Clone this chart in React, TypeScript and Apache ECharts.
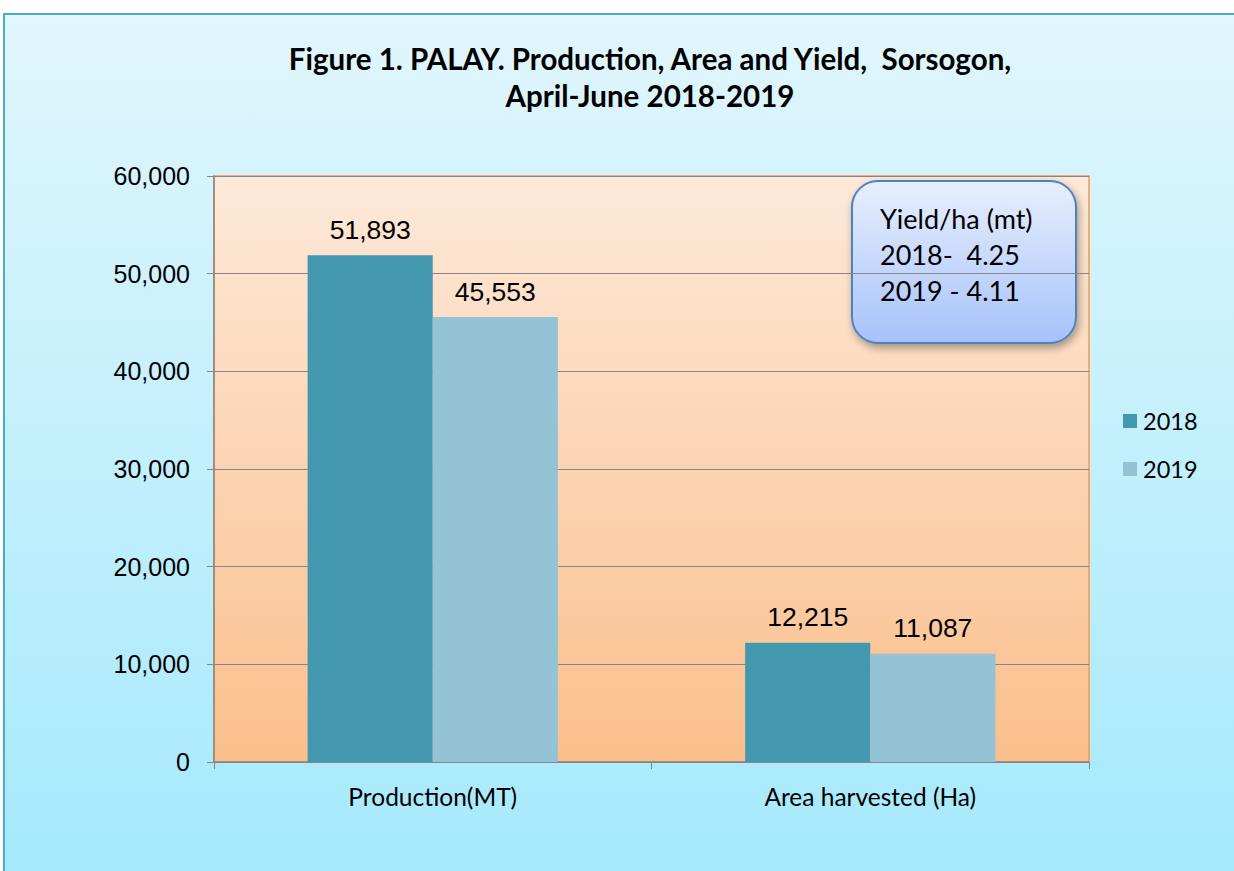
import React, { useEffect, useRef } from "react";
import * as echarts from "echarts";

const categories = ["Production(MT)", "Area harvested (Ha)"];
const seriesNames = ["2018", "2019"];
const values2018 = [51893, 12215];
const values2019 = [45553, 11087];
const yieldLines = ["Yield/ha (mt)", "2018-  4.25", "2019 - 4.11"];
const titleLines = ["Figure 1. PALAY. Production, Area and Yield,  Sorsogon,", "April-June 2018-2019"];

const CAL = "Lato, 'Open Sans', sans-serif";
const ARIAL = "'Liberation Sans', Arial, sans-serif";

export default function App() {
  const ref = useRef<HTMLDivElement>(null);
  useEffect(() => {
    const chart = echarts.init(ref.current!, null, { renderer: "svg" });
    const lg = (a: string, b: string) =>
      new echarts.graphic.LinearGradient(0, 0, 0, 1, [
        { offset: 0, color: a },
        { offset: 1, color: b },
      ]);
    const labelOpt = {
      show: true,
      position: "top",
      distance: 12,
      fontFamily: ARIAL,
      fontSize: 26.5,
      color: "#000",
      formatter: (p: any) => p.value.toLocaleString("en-US"),
    };
    chart.setOption({
      animation: false,
      title: {
        text: titleLines.join("\n"),
        left: 645,
        textAlign: "center",
        top: 35,
        textStyle: { fontFamily: CAL, fontWeight: "bold", fontSize: 29.5, lineHeight: 37, color: "#000" },
      },
      legend: {
        orient: "vertical",
        left: 1118,
        top: 404,
        itemWidth: 14,
        itemHeight: 14,
        itemGap: 24,
        icon: "rect",
        data: seriesNames,
        textStyle: { fontFamily: CAL, fontSize: 23.5, color: "#000", padding: [0, 0, 0, 1] },
      },
      grid: {
        left: 214,
        top: 176,
        width: 875,
        height: 586,
        show: true,
        backgroundColor: lg("#fde9d9", "#fbbf8c"),
        borderColor: "#f79646",
        borderWidth: 1.5,
      },
      xAxis: {
        type: "category",
        data: categories,
        axisLine: { lineStyle: { color: "#868686", width: 1.5 } },
        axisTick: { show: true, length: 7, lineStyle: { color: "#868686" } },
        axisLabel: { fontFamily: CAL, fontSize: 24.5, color: "#000", margin: 22 },
      },
      yAxis: {
        type: "value",
        min: 0,
        max: 60000,
        interval: 10000,
        axisLine: { show: true, lineStyle: { color: "#868686", width: 1.5 } },
        axisTick: { show: true, length: 7, lineStyle: { color: "#868686" } },
        splitLine: { lineStyle: { color: "#868686", width: 1 } },
        axisLabel: {
          fontFamily: ARIAL,
          fontSize: 25,
          color: "#000",
          margin: 24,
          formatter: (v: number) => v.toLocaleString("en-US"),
        },
      },
      series: [
        {
          name: seriesNames[0],
          type: "bar",
          data: values2018,
          barWidth: "28.6%",
          barGap: "0%",
          itemStyle: { color: "#4398b0" },
          label: labelOpt,
        },
        {
          name: seriesNames[1],
          type: "bar",
          data: values2019,
          barWidth: "28.6%",
          barGap: "0%",
          itemStyle: { color: "#93c3d4" },
          label: labelOpt,
        },
      ],
      graphic: [
        {
          type: "rect",
          z: -10,
          zlevel: 0,
          silent: true,
          shape: { x: 4, y: 14, width: 1260, height: 880 },
          style: { fill: lg("#e1f6fd", "#a4e9fc"), stroke: "#4bacc6", lineWidth: 2 },
        },
        {
          type: "group",
          z: 100,
          children: [
            {
              type: "rect",
              shape: { x: 852, y: 181, width: 224, height: 162, r: 26 },
              style: {
                fill: lg("#e7effd", "#a7c2fb"),
                stroke: "#4f81bd",
                lineWidth: 2,
                shadowBlur: 8,
                shadowOffsetX: 2,
                shadowOffsetY: 4,
                shadowColor: "rgba(0,0,0,0.35)",
              },
            },
            ...yieldLines.map((t, i) => ({
              type: "text",
              x: 880,
              y: 218 + i * 36,
              style: {
                text: t,
                fontFamily: CAL,
                fontSize: 27,
                fill: "#000",
                verticalAlign: "middle",
              },
            })),
          ],
        },
      ],
    });
    return () => chart.dispose();
  }, []);
  return (
    <div
      ref={ref}
      style={{ position: "fixed", left: 0, top: 0, width: 1234, height: 871, background: "#fff" }}
    />
  );
}
